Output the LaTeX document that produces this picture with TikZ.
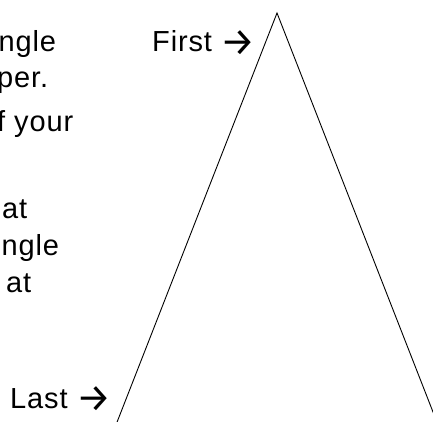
\documentclass[tikz,border=0pt]{standalone}
\usepackage{fontspec}
\setmainfont{Liberation Sans}[LetterSpace=3]
\newfontfamily\arrowfont{Fira Sans}
\usepackage{tikz}
\usetikzlibrary{positioning}
\definecolor{inkblack}{RGB}{0,0,0}
\newcommand{\tipglyph}{\hspace{0pt}\raisebox{-3.5pt}{\arrowfont\fontsize{39}{39}\selectfont →}}
\tikzset{
  %% ---- text ----
  cuttext/.style = {anchor=base west, inner sep=0pt, text=inkblack,
                    font=\fontsize{29}{34}\selectfont},
  marker/.style  = {cuttext},
  %% ---- lines ----
  leg/.style     = {draw=inkblack, line width=0.9pt, line join=miter},
}
\begin{document}
\begin{tikzpicture}[x=1pt, y=-1pt]
\useasboundingbox (0,0) rectangle (433,422);
%% text on the left, cut by the edge
\node[cuttext] (l1) at (-1.5,52)  {ngle};
\node[cuttext] (l2) at (-3,88)    {per.};
\node[cuttext] (l3) at (-3,132)   {f your};
\node[cuttext] (l4) at (2,218)    {at};
\node[cuttext] (l5) at (1.5,255)  {ngle};
\node[cuttext] (l6) at (6,292)    {at};
%% markers
\node[marker] (first) at (152,52) {First \tipglyph};
\node[marker] (last)  at (10,408) {Last \tipglyph};
%% the triangle
\coordinate (apex) at (277,13);
\coordinate (botl) at (112,435);
\coordinate (botr) at (442,435);
\draw[leg] (botl) -- (apex) -- (botr);
\end{tikzpicture}
\end{document}
